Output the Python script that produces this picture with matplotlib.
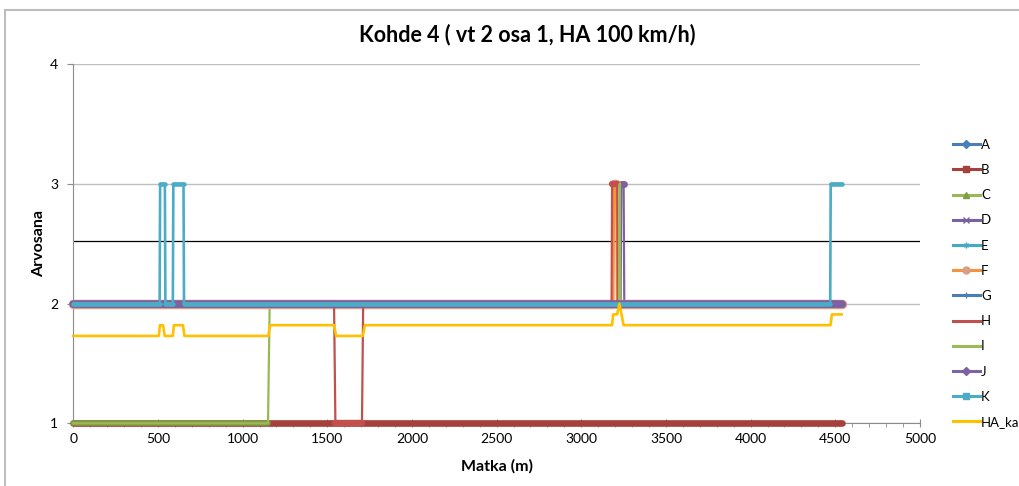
import numpy as np
import matplotlib.pyplot as plt
from matplotlib.lines import Line2D
from matplotlib.patches import Rectangle

plt.rcParams['font.family'] = ['Lato', 'DejaVu Sans']

# distance (m) / grade pairs, one pair of lists per measurement series
matka_A = [0, 4540]
arvo_A = [2, 2]
matka_B = [0, 4540]
arvo_B = [1, 1]
matka_C = [0, 1150, 1160, 4540]
arvo_C = [1, 1, 2, 2]
matka_D = [0, 3232, 3236, 3250, 3254, 4540]
arvo_D = [2, 2, 3, 3, 2, 2]
matka_E = [0, 4540]
arvo_E = [2, 2]
matka_F = [0, 3190, 3194, 3206, 3210, 4540]
arvo_F = [2, 2, 3, 3, 2, 2]
matka_G = [0, 4540]
arvo_G = [2, 2]
matka_H = [0, 1540, 1548, 1705, 1712, 3179, 3182, 3212, 3216, 4540]
arvo_H = [2, 2, 1, 1, 2, 2, 3, 3, 2, 2]
matka_I = [0, 3222, 3224, 3228, 3230, 4540]
arvo_I = [2, 2, 3, 3, 2, 2]
matka_J = [0, 4540]
arvo_J = [2, 2]
matka_K = [0, 510, 513, 541, 544, 588, 591, 651, 654, 4470, 4473, 4540]
arvo_K = [2, 2, 3, 3, 2, 2, 3, 3, 2, 2, 3, 3]
matka_HA = [0, 505, 512, 530, 540, 588, 594, 648, 656, 1152, 1162, 1540, 1552,
            1710, 1722, 3182, 3188, 3205, 3212, 3225, 3250, 4472, 4480, 4537]
arvo_HA = [1.73, 1.73, 1.82, 1.82, 1.73, 1.73, 1.82, 1.82, 1.73, 1.73, 1.82, 1.82, 1.73,
           1.73, 1.82, 1.82, 1.91, 1.91, 1.91, 2.0, 1.82, 1.82, 1.91, 1.91]
raja = 2.52

# label, x, y, line colour, band colour, band width (pt), line width, legend marker
sarjat = [
    ('A', matka_A, arvo_A, '#4A7EBB', '#4A7EBB', 5.0, 1.6, 'D'),
    ('B', matka_B, arvo_B, '#A5403C', '#A5403C', 4.8, 1.6, 's'),
    ('C', matka_C, arvo_C, '#98B954', '#7F9D44', 4.0, 1.6, '^'),
    ('D', matka_D, arvo_D, '#7D60A0', '#7D60A0', 5.0, 1.6, 'x'),
    ('E', matka_E, arvo_E, '#46AAC5', '#46AAC5', 5.0, 1.6, (6, 2, 0)),
    ('F', matka_F, arvo_F, '#F69240', '#D99E84', 6.8, 1.6, 'o'),
    ('G', matka_G, arvo_G, '#4A7EBB', '#4A7EBB', 5.0, 1.6, '+'),
    ('H', matka_H, arvo_H, '#C0504D', '#C4504D', 4.6, 1.6, '_'),
    ('I', matka_I, arvo_I, '#9BBB59', None, 0, 1.4, None),
    ('J', matka_J, arvo_J, '#8064A2', '#7E5FA0', 5.4, 1.6, 'D'),
    ('K', matka_K, arvo_K, '#4BACC6', '#4BACC6', 3.3, 1.9, 's'),
    ('HA_ka', matka_HA, arvo_HA, '#FFC000', None, 0, 1.9, None),
]


def piirra(ax, x, y, vari, nauha_vari, nauha, lw, z):
    x = np.asarray(x, float)
    y = np.asarray(y, float)
    # dense markers show up as a thick band along the flat parts
    if nauha:
        for i in np.flatnonzero(y[1:] == y[:-1]):
            ax.plot(x[i:i + 2], y[i:i + 2], color=nauha_vari, lw=nauha,
                    solid_capstyle='round', zorder=z, clip_on=False)
    ax.plot(x, y, color=vari, lw=lw, zorder=z + 0.5, clip_on=False)


fig = plt.figure(figsize=(10.19, 4.86), dpi=100)
ax = fig.add_axes([0.0719, 0.129, 0.8309, 0.7387])

for k, (nimi, x, y, vari, nv, nw, lw, m) in enumerate(sarjat):
    piirra(ax, x, y, vari, nv, nw, lw, 3 + k)

ax.axhline(raja, color='black', lw=0.9, zorder=2)

ax.set_xlim(0, 5000)
ax.set_ylim(1, 4)
ax.set_xticks(np.arange(0, 5001, 500))
ax.set_xticks(np.arange(0, 5001, 100), minor=True)
ax.set_yticks([1, 2, 3, 4])
ax.yaxis.grid(True, color='#BFBFBF', lw=1.0)
ax.set_axisbelow(True)
for s in ['top', 'right']:
    ax.spines[s].set_visible(False)
for s in ['left', 'bottom']:
    ax.spines[s].set_color('#8C8C8C')
ax.tick_params(axis='x', which='major', direction='inout', length=6, color='#8C8C8C',
               labelsize=10, pad=4)
ax.tick_params(axis='x', which='minor', direction='out', length=3, color='#8C8C8C')
ax.tick_params(axis='y', direction='out', length=4, color='#8C8C8C', labelsize=10, pad=7)

ax.set_xlabel('Matka (m)', fontsize=11.5, fontweight='bold', labelpad=10)
ax.set_ylabel('Arvosana', fontsize=11.5, fontweight='bold', labelpad=3)
fig.text(527 / 1019, 1 - 35 / 486, 'Kohde 4 ( vt 2 osa 1, HA 100 km/h)',
         ha='center', va='center', fontsize=15.5, fontweight='bold')

kahvat = []
for nimi, x, y, vari, nv, nw, lw, m in sarjat:
    if m is None:
        kahvat.append(Line2D([], [], color=vari, lw=2.2, label=nimi))
    else:
        koko = 5 if m in ('o', 's') else 4
        kahvat.append(Line2D([], [], color=vari, lw=2.2, marker=m, markersize=koko,
                             markerfacecolor=nv, markeredgecolor=nv, label=nimi))
fig.legend(handles=kahvat, loc='upper left', bbox_to_anchor=(0.929, 0.728),
           frameon=False, fontsize=9.5, handlelength=2.0, handletextpad=0.1,
           labelspacing=1.0, borderpad=0)

fig.patches.append(Rectangle((5 / 1019, -0.1), 1.2, 1.1 - 10 / 486,
                             transform=fig.transFigure, fill=False,
                             ec='#BDBDBD', lw=1.5))

fig.savefig('out.png', dpi=100)
